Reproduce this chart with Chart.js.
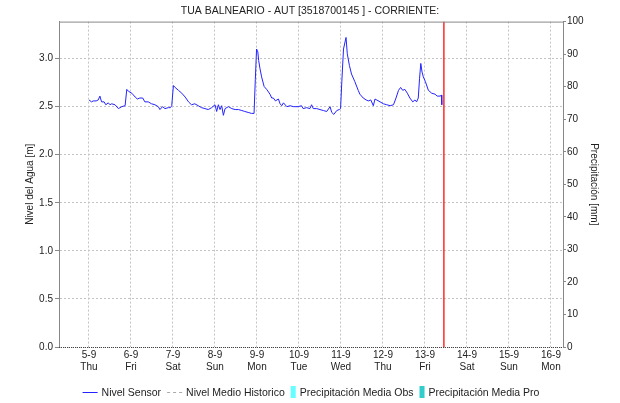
<!DOCTYPE html>
<html>
<head>
<meta charset="utf-8">
<title>TUA BALNEARIO - AUT</title>
<script src="https://cdn.jsdelivr.net/npm/chart.js@4.4.1/dist/chart.umd.min.js"></script>
<style>
  body { margin: 0; background: #fff; }
  canvas { display: block; }
</style>
</head>
<body>
<canvas id="nivelChart" width="620" height="403"></canvas>
<script>
// eje x en dias, 0 = 5-9 00:00
const dayLabels = ['5-9', '6-9', '7-9', '8-9', '9-9', '10-9', '11-9', '12-9', '13-9', '14-9', '15-9', '16-9'];
const weekdayLabels = ['Thu', 'Fri', 'Sat', 'Sun', 'Mon', 'Tue', 'Wed', 'Thu', 'Fri', 'Sat', 'Sun', 'Mon'];
const levelTicks = [0.0, 0.5, 1.0, 1.5, 2.0, 2.5, 3.0];

// Nivel Sensor [m]
const sensorTime = [
    0.00, 0.06, 0.10, 0.17, 0.22, 0.26, 0.30, 0.36, 0.40, 0.46, 0.50, 0.54, 0.62, 0.70, 0.78, 0.86,
    0.90, 0.94, 1.02, 1.10, 1.15, 1.21, 1.28, 1.33, 1.41, 1.49, 1.57, 1.65, 1.69, 1.75, 1.81, 1.89,
    1.94, 1.97, 2.01, 2.05, 2.13, 2.21, 2.29, 2.37, 2.44, 2.52, 2.60, 2.68, 2.76, 2.84, 2.92, 3.00,
    3.04, 3.08, 3.12, 3.16, 3.20, 3.24, 3.32, 3.40, 3.48, 3.56, 3.64, 3.71, 3.79, 3.87, 3.93, 3.96,
    3.99, 4.02, 4.04, 4.07, 4.11, 4.17, 4.23, 4.31, 4.35, 4.39, 4.44, 4.51, 4.55, 4.59, 4.63, 4.71,
    4.79, 4.87, 4.98, 5.06, 5.10, 5.18, 5.26, 5.30, 5.34, 5.42, 5.50, 5.58, 5.66, 5.74, 5.78, 5.83,
    5.90, 5.96, 5.99, 6.02, 6.06, 6.12, 6.15, 6.20, 6.25, 6.33, 6.41, 6.45, 6.53, 6.60, 6.65, 6.71,
    6.77, 6.81, 6.85, 6.93, 7.01, 7.09, 7.17, 7.25, 7.31, 7.37, 7.42, 7.47, 7.52, 7.58, 7.64, 7.71,
    7.76, 7.80, 7.84, 7.87, 7.90, 7.93, 7.96, 8.01, 8.08, 8.16, 8.24, 8.29, 8.36, 8.39, 8.40
];
const sensorLevel = [
    2.57, 2.55, 2.56, 2.56, 2.57, 2.61, 2.55, 2.55, 2.52, 2.54, 2.52, 2.53, 2.52, 2.48, 2.50, 2.51,
    2.68, 2.66, 2.64, 2.60, 2.58, 2.59, 2.59, 2.55, 2.55, 2.53, 2.52, 2.50, 2.47, 2.50, 2.48, 2.49,
    2.49, 2.51, 2.72, 2.70, 2.67, 2.64, 2.60, 2.55, 2.52, 2.53, 2.51, 2.49, 2.48, 2.47, 2.49, 2.52,
    2.45, 2.52, 2.47, 2.51, 2.41, 2.48, 2.50, 2.48, 2.47, 2.47, 2.46, 2.45, 2.44, 2.43, 2.43, 2.78,
    3.10, 3.07, 2.98, 2.90, 2.81, 2.71, 2.68, 2.63, 2.59, 2.59, 2.56, 2.58, 2.53, 2.51, 2.54, 2.50,
    2.51, 2.50, 2.50, 2.51, 2.48, 2.49, 2.48, 2.52, 2.48, 2.48, 2.47, 2.46, 2.45, 2.50, 2.44, 2.42,
    2.46, 2.47, 2.48, 2.76, 3.10, 3.22, 3.05, 2.93, 2.84, 2.76, 2.67, 2.63, 2.59, 2.57, 2.56, 2.57,
    2.51, 2.58, 2.57, 2.55, 2.53, 2.52, 2.51, 2.52, 2.59, 2.67, 2.70, 2.67, 2.68, 2.64, 2.59, 2.55,
    2.57, 2.55, 2.59, 2.79, 2.95, 2.86, 2.81, 2.76, 2.67, 2.64, 2.63, 2.61, 2.61, 2.62, 2.52
];

// sin datos en este periodo
const historicLevel = [];
const rainObs = [];
const rainForecast = [];

// hora actual (13-9 ~10:50)
const nowTime = 8.45;

const levelMax = 3.385;
const timeMin = -0.714;
const timeMax = 11.286;

const tickFont = { family: '"Liberation Sans", Arial, sans-serif', size: 10 };
const textFont = { family: '"Liberation Sans", Arial, sans-serif', size: 10 };

function toPoints(xs, ys) {
    return xs.map((x, i) => ({ x: x, y: ys[i] }));
}

// marco: linea superior continua y linea inferior punteada
const frameLines = {
    id: 'frameLines',
    afterDraw(chart) {
        const { ctx, chartArea } = chart;
        ctx.save();
        ctx.lineWidth = 1;
        ctx.strokeStyle = '#888';
        ctx.beginPath();
        ctx.moveTo(chartArea.left, chartArea.top + 0.5);
        ctx.lineTo(chartArea.right, chartArea.top + 0.5);
        ctx.stroke();
        ctx.strokeStyle = '#444';
        ctx.setLineDash([1, 1]);
        ctx.beginPath();
        ctx.moveTo(chartArea.left, chartArea.bottom + 0.5);
        ctx.lineTo(chartArea.right, chartArea.bottom + 0.5);
        ctx.stroke();
        ctx.restore();
    }
};

// leyenda en una fila bajo el eje x
const legendRow = {
    id: 'legendRow',
    afterDraw(chart) {
        const ctx = chart.ctx;
        const items = chart.data.datasets.filter(d => d.legendSymbol);
        ctx.save();
        ctx.font = '10.5px "Liberation Sans", Arial, sans-serif';
        const symW = d => (d.legendSymbol === 'box' ? 5 : 15);
        const widths = items.map(d => symW(d) + 4 + ctx.measureText(d.label).width);
        const gap = 6;
        const total = widths.reduce((a, b) => a + b, 0) + gap * (items.length - 1);
        let x = (chart.chartArea.left + chart.chartArea.right) / 2 - total / 2;
        const y = chart.height - 11;
        items.forEach((d, i) => {
            const w = symW(d);
            if (d.legendSymbol === 'box') {
                ctx.fillStyle = d.backgroundColor;
                ctx.fillRect(x, y - 6, w, 12);
            } else {
                ctx.strokeStyle = d.borderColor;
                ctx.lineWidth = 1;
                ctx.setLineDash(d.borderDash || []);
                ctx.beginPath();
                ctx.moveTo(x, y + 0.5);
                ctx.lineTo(x + w, y + 0.5);
                ctx.stroke();
                ctx.setLineDash([]);
            }
            ctx.fillStyle = '#222';
            ctx.textBaseline = 'middle';
            ctx.fillText(d.label, x + w + 4, y + 1);
            x += widths[i] + gap;
        });
        ctx.restore();
    }
};

const ctx = document.getElementById('nivelChart').getContext('2d');
const nivelChart = new Chart(ctx, {
    type: 'line',
    data: {
        datasets: [
            {
                label: 'Nivel Sensor',
                legendSymbol: 'line',
                data: toPoints(sensorTime, sensorLevel),
                borderColor: 'rgb(35,35,255)',
                borderWidth: 1,
                pointRadius: 0,
                tension: 0,
                yAxisID: 'y'
            },
            {
                label: 'Nivel Medio Historico',
                legendSymbol: 'dash',
                data: historicLevel,
                borderColor: '#aaa',
                borderDash: [3, 3],
                borderWidth: 1,
                pointRadius: 0,
                yAxisID: 'y'
            },
            {
                type: 'bar',
                label: 'Precipitación Media Obs',
                legendSymbol: 'box',
                data: rainObs,
                backgroundColor: '#66ffff',
                yAxisID: 'y1'
            },
            {
                type: 'bar',
                label: 'Precipitación Media Pro',
                legendSymbol: 'box',
                data: rainForecast,
                backgroundColor: '#33cccc',
                yAxisID: 'y1'
            },
            {
                label: 'ahora',
                data: [{ x: nowTime, y: 0 }, { x: nowTime, y: levelMax }],
                borderColor: '#ff2a2a',
                borderWidth: 1.5,
                pointRadius: 0,
                yAxisID: 'y'
            }
        ]
    },
    options: {
        responsive: false,
        animation: false,
        devicePixelRatio: 1,
        layout: { padding: { left: 0, right: 0, top: 0, bottom: 30 } },
        plugins: {
            legend: { display: false },
            tooltip: { enabled: false },
            title: {
                display: true,
                text: 'TUA BALNEARIO - AUT [3518700145 ] - CORRIENTE:',
                color: '#222',
                font: { family: '"Liberation Sans", Arial, sans-serif', size: 10.5, weight: 'normal' },
                padding: { top: 5, bottom: 4 }
            }
        },
        scales: {
            x: {
                type: 'linear',
                offset: false,
                min: timeMin,
                max: timeMax,
                afterBuildTicks: scale => {
                    scale.ticks = dayLabels.map((_, i) => ({ value: i }));
                },
                afterFit: scale => {
                    scale.height = 26;
                    scale.paddingLeft = 0;
                    scale.paddingRight = 0;
                },
                ticks: {
                    autoSkip: false,
                    maxRotation: 0,
                    padding: 2,
                    color: '#222',
                    font: tickFont,
                    callback: (value, index) => [dayLabels[index], weekdayLabels[index]]
                },
                grid: {
                    offset: false,
                    color: '#c4c4c4',
                    drawTicks: false
                },
                border: { display: false, dash: [2, 2] }
            },
            y: {
                position: 'left',
                min: 0,
                max: levelMax,
                afterBuildTicks: scale => {
                    scale.ticks = levelTicks.map(v => ({ value: v }));
                },
                afterFit: scale => { scale.width = 59; },
                ticks: {
                    padding: 2,
                    color: '#222',
                    font: tickFont,
                    callback: v => v.toFixed(1)
                },
                grid: {
                    color: '#c4c4c4',
                    tickColor: '#888',
                    tickLength: 4,
                    tickBorderDash: []
                },
                border: { display: true, color: '#888', dash: [2, 2] },
                title: {
                    display: true,
                    text: 'Nivel del Agua [m]',
                    color: '#222',
                    font: textFont,
                    padding: { top: 24, bottom: 0 }
                }
            },
            y1: {
                position: 'right',
                min: 0,
                max: 100,
                afterFit: scale => { scale.width = 57; },
                ticks: {
                    stepSize: 10,
                    padding: 1,
                    color: '#222',
                    font: tickFont
                },
                grid: {
                    drawOnChartArea: false,
                    color: '#888',
                    tickLength: 3
                },
                border: { display: true, color: '#888' },
                title: {
                    display: true,
                    text: 'Precipitación [mm]',
                    color: '#222',
                    font: textFont,
                    padding: { top: 20, bottom: 0 }
                }
            }
        }
    },
    plugins: [frameLines, legendRow]
});
</script>
</body>
</html>
